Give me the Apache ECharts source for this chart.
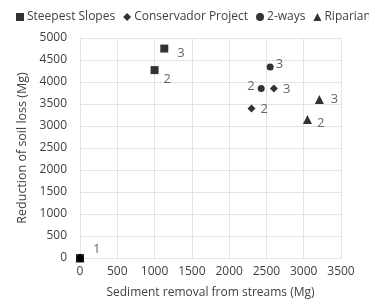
<!DOCTYPE html>
<html>
<head>
<meta charset="utf-8">
<script src="https://cdn.jsdelivr.net/npm/echarts@6/dist/echarts.min.js"></script>
<style>
  html, body { margin: 0; padding: 0; background: #fff; }
  #chart { width: 369px; height: 304px; }
</style>
</head>
<body>
<div id="chart"></div>
<script>
  // 各方案：[泥沙清除量, 土壤流失减少量]
  let seriesNames = ['Steepest Slopes', 'Conservador Project', '2-ways', 'Riparian'];
  let steepestX = [0, 1000, 1130];
  let steepestY = [0, 4270, 4760];
  let conservadorX = [0, 2300, 2600];
  let conservadorY = [0, 3400, 3850];
  let twoWaysX = [0, 2430, 2550];
  let twoWaysY = [0, 3850, 4340];
  let ripariaX = [0, 3050, 3210];
  let ripariaY = [0, 3150, 3600];
  let pointLabels = ['1', '2', '3'];

  let symbols = ['rect', 'diamond', 'circle', 'triangle'];
  let symbolSizes = [8, 8, 7, 9];
  let xs = [steepestX, conservadorX, twoWaysX, ripariaX];
  let ys = [steepestY, conservadorY, twoWaysY, ripariaY];

  // 标签位置（只在构建时使用）
  let labelPos = [
    [['right', [4, -9]], ['right', [0, 9]], ['right', [4, 5]]],
    [null, ['right', [0, 1]], ['right', [0, 1]]],
    [null, ['left', [2, -2]], ['right', [-3, -3]]],
    [null, ['right', [0, 4]], ['right', [2, 0]]]
  ];

  let font = 'Open Sans';
  let textColor = '#404040';
  let gridColor = '#e3e3e3';

  let series = xs.map((xArr, i) => {
    return {
      name: seriesNames[i],
      type: 'scatter',
      symbol: symbols[i],
      symbolSize: symbolSizes[i],
      itemStyle: { color: '#000' },
      z: i === 0 ? 1 : 2,
      data: xArr.map((x, j) => {
        let p = labelPos[i][j];
        return {
          value: [x, ys[i][j]],
          label: {
            show: !!p,
            position: p ? p[0] : 'right',
            offset: p ? p[1] : [0, 0],
            formatter: pointLabels[j],
            color: textColor,
            fontSize: 13,
            fontFamily: font
          }
        };
      })
    };
  });

  let myChart = echarts.init(document.getElementById('chart'));
  myChart.setOption({
    backgroundColor: '#fff',
    animation: false,
    textStyle: { fontFamily: font, color: textColor },
    legend: {
      left: 11,
      top: 6,
      width: 800,
      itemWidth: 8,
      itemHeight: 8,
      itemGap: 8,
      textStyle: { fontSize: 12, color: textColor, fontFamily: font, padding: [0, 0, 0, -2] },
      data: seriesNames.map((n, i) => ({ name: n, icon: symbols[i] }))
    },
    grid: {
      left: 80,
      right: 28,
      top: 38,
      bottom: 44,
      containLabel: false
    },
    xAxis: {
      type: 'value',
      min: 0,
      max: 3500,
      interval: 500,
      name: 'Sediment removal from streams (Mg)',
      nameLocation: 'middle',
      nameGap: 29,
      nameTextStyle: { fontSize: 12, color: textColor },
      axisLine: { show: true, lineStyle: { color: gridColor } },
      axisTick: { show: false },
      axisLabel: { fontSize: 12, color: textColor, margin: 8, formatter: v => String(v) },
      splitLine: { show: true, lineStyle: { color: gridColor } }
    },
    yAxis: {
      type: 'value',
      min: 0,
      max: 5000,
      interval: 500,
      name: 'Reduction of soil loss (Mg)',
      nameLocation: 'middle',
      nameGap: 47,
      nameTextStyle: { fontSize: 12.5, color: textColor },
      axisLine: { show: true, lineStyle: { color: gridColor } },
      axisTick: { show: false },
      axisLabel: { fontSize: 12, color: textColor, margin: 13, formatter: v => String(v) },
      splitLine: { show: true, lineStyle: { color: gridColor } }
    },
    series: series
  });
</script>
</body>
</html>
